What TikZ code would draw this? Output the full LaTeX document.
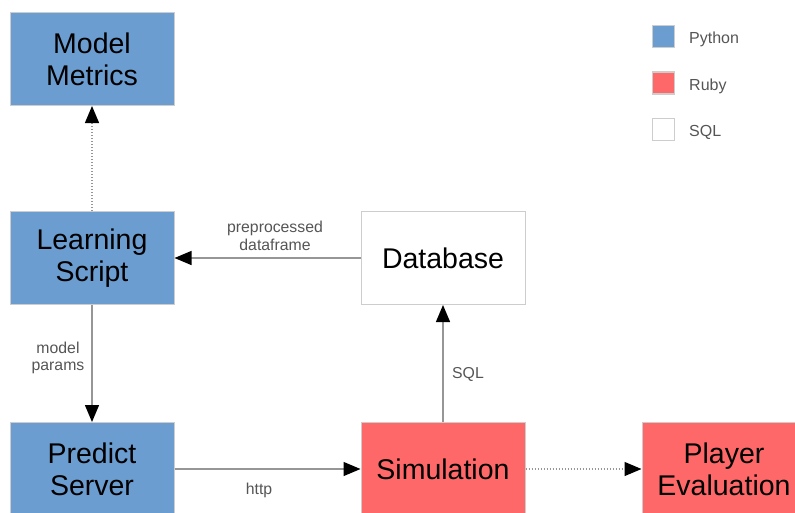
\documentclass[tikz,border=0pt]{standalone}
\usepackage{fontspec}
\setmainfont{Liberation Sans}
\usetikzlibrary{arrows.meta}
\definecolor{pyblue}{RGB}{108,157,208}
\definecolor{rbred}{RGB}{255,104,104}
\definecolor{bordergray}{RGB}{205,205,205}
\definecolor{linegray}{RGB}{150,150,150}
\definecolor{labelgray}{RGB}{85,85,85}
\tikzset{
  box/.style={draw=bordergray, line width=1pt, minimum width=164pt, minimum height=93pt,
    inner sep=0pt, align=center, text=black, font=\fontsize{28.5}{32}\selectfont},
  py/.style={box, fill=pyblue},
  rb/.style={box, fill=rbred},
  sq/.style={box, fill=white},
  conn/.style={draw=linegray, line width=1.3pt, -{Triangle[length=17pt,width=14pt,color=black]}},
  dotconn/.style={conn, dash pattern=on 1.5pt off 1.5pt},
  lbl/.style={text=labelgray, align=center, font=\fontsize{15.8}{17.5}\selectfont, inner sep=0pt},
  legsq/.style={draw=bordergray, line width=1.5pt, minimum width=22pt, minimum height=22pt, inner sep=0pt},
  legtxt/.style={text=labelgray, anchor=west, font=\fontsize{16}{18}\selectfont, inner sep=0pt}
}
\begin{document}
\begin{tikzpicture}[x=1pt,y=-1pt]
\useasboundingbox (0,0) rectangle (795,512);
\node[py] (mm) at (92,59) {Model\\Metrics};
\node[py] (ls) at (92,258) {Learning\\Script};
\node[py] (ps) at (92,469) {Predict\\Server};
\node[sq] (db) at (443,258) {Database};
\node[rb] (sim) at (443,469) {Simulation};
\node[rb] (pe) at (724,469) {Player\\Evaluation};

\draw[dotconn] (ls.north) -- (mm.south);
\draw[conn] (db.west) -- (ls.east);
\draw[conn] (ls.south) -- (ps.north);
\draw[conn] (ps.east) -- (sim.west);
\draw[conn] (sim.north) -- (db.south);
\draw[dotconn] (sim.east) -- (pe.west);

\node[lbl] (l1) at (275,236) {preprocessed\\dataframe};
\node[lbl] (l2) at (58,358) {model\\params};
\node[lbl] (l3) at (259,490) {http};
\node[lbl] (l4) at (468,374) {SQL};

\node[legsq, fill=pyblue] (k1) at (663.5,36.5) {};
\node[legsq, fill=rbred] (k2) at (663.5,83) {};
\node[legsq, fill=white] (k3) at (663.5,129.5) {};
\node[legtxt] (t1) at (689,39.5) {Python};
\node[legtxt] (t2) at (689,86) {Ruby};
\node[legtxt] (t3) at (689,132) {SQL};
\end{tikzpicture}
\end{document}
